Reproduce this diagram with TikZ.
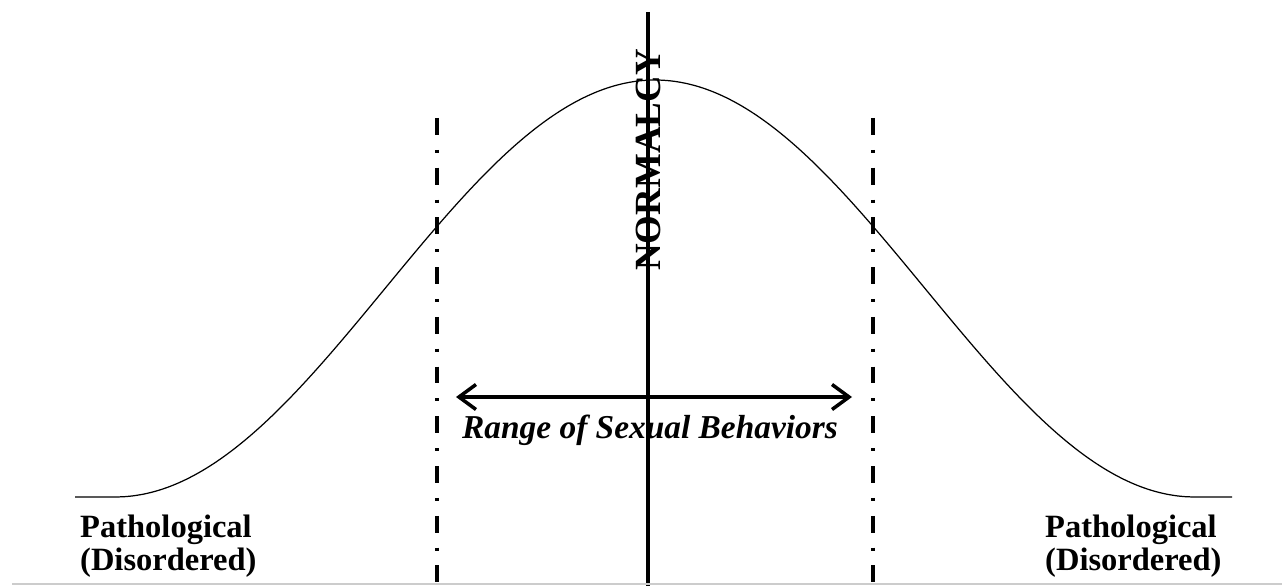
\documentclass[tikz,border=0pt]{standalone}
\usepackage{fontspec}
\setmainfont{Liberation Serif}
\usetikzlibrary{arrows.meta, positioning}

\begin{document}
\begin{tikzpicture}[x=0.02cm, y=0.02cm, >={Straight Barb[length=0.34cm, width=0.5cm]},
        limit/.style={line width=2.2pt, dash pattern=on 9.6pt off 8.5pt on 1.7pt off 8.5pt},
        label/.style={font=\fontsize{18.5}{18.7}\selectfont\bfseries, anchor=west, align=left}]
        \useasboundingbox (0,0) rectangle (1282,586);

        % axis and limits
        \coordinate (ctop) at (648,574);
        \coordinate (cbot) at (648,0);
        \coordinate (ltop) at (437,468);
        \coordinate (lbot) at (437,0);
        \coordinate (rtop) at (873,468);
        \coordinate (rbot) at (873,0);
        \draw[line width=2.2pt] (ctop) -- (cbot);
        \draw[limit] (ltop) -- (lbot);
        \draw[limit] (rtop) -- (rbot);

        % bell curve
        \draw[line width=0.7pt] (75,89) -- (115,89)
            -- plot[domain=-540:540, samples=120, smooth] ({655+\x}, {89+417*(1+cos(\x/3))/2})
            -- (1232,89);

        % range arrow
        \coordinate (rleft) at (456,189);
        \coordinate (rright) at (852,189);
        \draw[<->, line width=2pt] (rleft) -- (rright);
        \node[font=\fontsize{19}{21}\selectfont\bfseries\itshape] (range) at (650,156) {Range of Sexual Behaviors};

        \node[rotate=90, font=\fontsize{21}{24}\selectfont\bfseries] (normal) at (648,426) {NORMALCY};

        \node[label] (pathl) at (74,40) {Pathological\\(Disordered)};
        \node[label] (pathr) at (1039,40) {Pathological\\(Disordered)};

        \draw[gray!40, line width=0.6pt] (12,2) -- (1282,2);
    \end{tikzpicture}
\end{document}
